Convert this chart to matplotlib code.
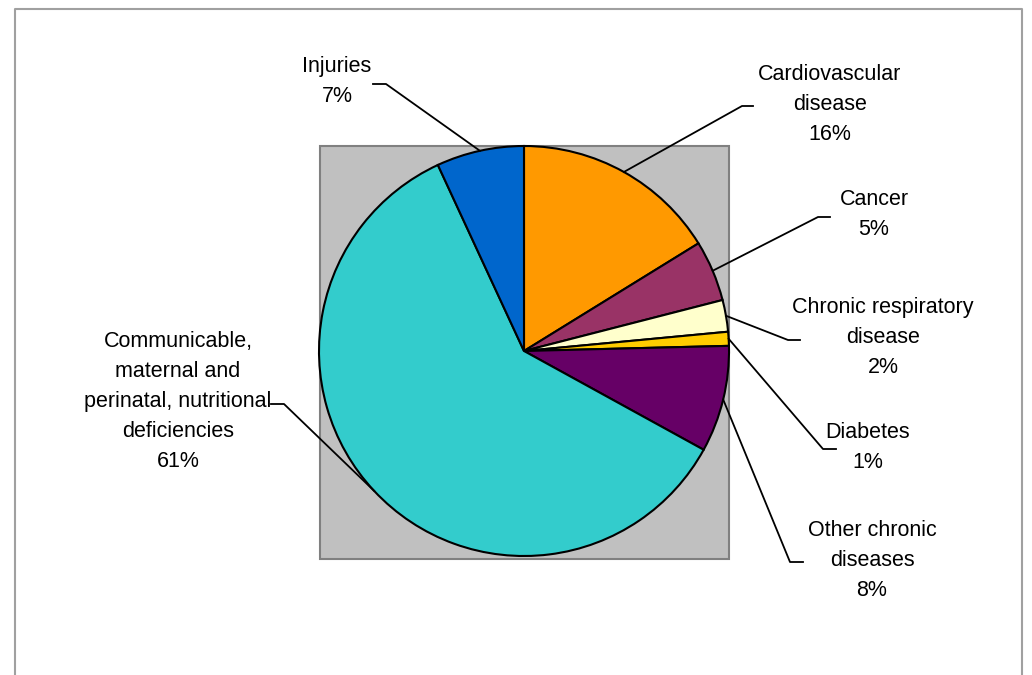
import numpy as np
import matplotlib.pyplot as plt
from matplotlib.patches import Rectangle

plt.rcParams['font.family'] = ['Liberation Sans', 'DejaVu Sans']

# data, clockwise from 12 o'clock
causes = ['Cardiovascular\ndisease', 'Cancer', 'Chronic respiratory\ndisease', 'Diabetes',
          'Other chronic\ndiseases', 'Communicable,\nmaternal and\nperinatal, nutritional\ndeficiencies',
          'Injuries']
shares = [16.2, 4.8, 2.5, 1.1, 8.4, 60.1, 6.9]
pct_text = ['16%', '5%', '2%', '1%', '8%', '61%', '7%']
colors = ['#FF9900', '#993366', '#FFFFCC', '#FFCC00', '#660066', '#33CCCC', '#0066CC']

W, H = 1032, 675
fig = plt.figure(figsize=(W / 100, H / 100), dpi=100)
ax = fig.add_axes([0, 0, 1, 1])

def Y(y):
    return H - y

# outer frame (no bottom edge visible)
ax.plot([15, 15, 1022, 1022], [Y(680), Y(9), Y(9), Y(680)], color='#A0A0A0', lw=1.5)

# plot area
ax.add_patch(Rectangle((320, Y(559)), 409, 413, facecolor='#C0C0C0', edgecolor='#808080', lw=1.5))

cx, cy, r = 524, Y(351), 205
wedges, _ = ax.pie(shares, colors=colors, startangle=90, counterclock=False,
                   center=(cx, cy), radius=r, frame=True,
                   wedgeprops=dict(edgecolor='black', linewidth=1.5))
ax.set_xlim(0, W)
ax.set_ylim(0, H)
ax.set_aspect('equal')
ax.axis('off')

# label layout: text centre (x, y of first line), elbow start, elbow end
layout = [
    ((830, 75), (753, 106), (742, 106)),
    ((874, 200), (830, 217), (818, 217)),
    ((883, 308), (800, 340), (788, 340)),
    ((868, 433), (836, 449), (823, 449)),
    ((872, 531), (803, 562), (790, 562)),
    ((178, 342), (271, 404), (284, 404)),
    ((337, 67), (373, 84), (386, 84)),
]

for w, name, pct, (tpos, p0, p1) in zip(wedges, causes, pct_text, layout):
    mid = np.deg2rad((w.theta1 + w.theta2) / 2)
    ex, ey = cx + r * np.cos(mid), cy + r * np.sin(mid)
    ax.plot([p0[0], p1[0], ex], [Y(p0[1]), Y(p1[1]), ey], color='black', lw=1.3)
    ax.text(tpos[0], Y(tpos[1]) + 11, name + '\n' + pct, ha='center', va='top',
            fontsize=15.5, linespacing=1.57, color='black')

fig.savefig('out.png', dpi=100)
